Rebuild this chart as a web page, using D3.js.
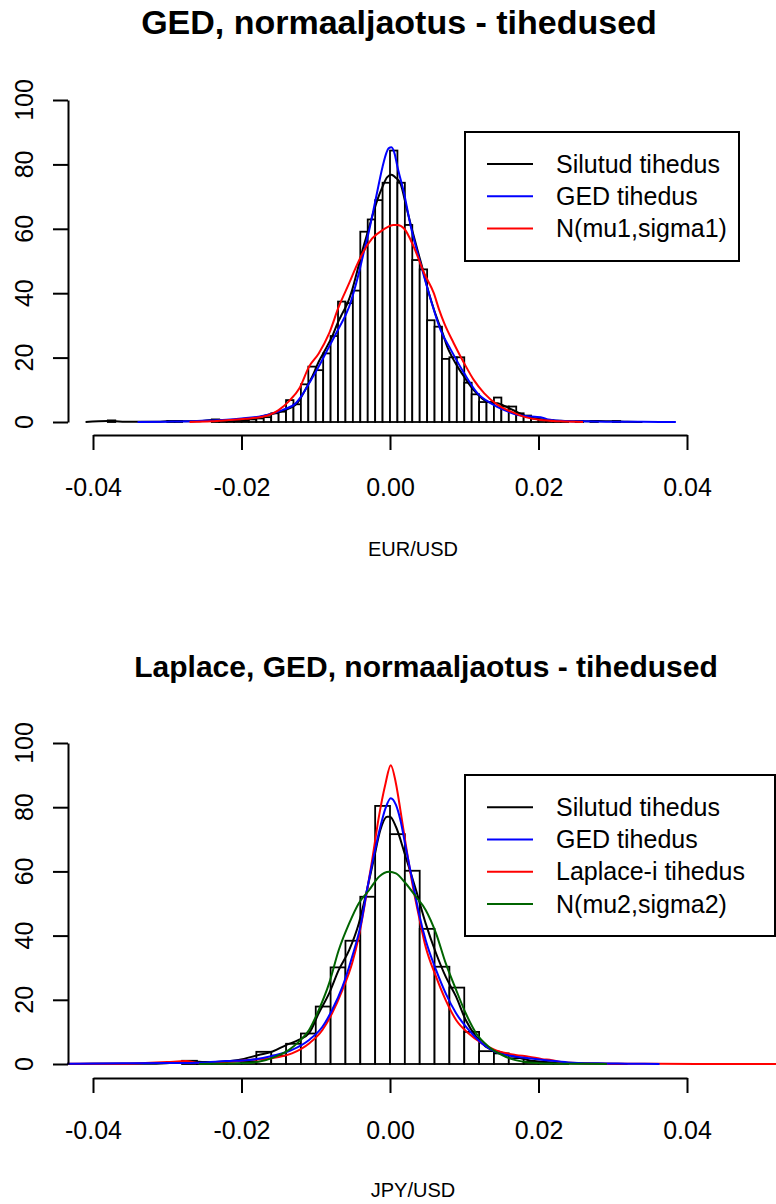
<!DOCTYPE html>
<html>
<head>
<meta charset="utf-8">
<script src="https://cdn.jsdelivr.net/npm/d3@7"></script>
<style>
  html, body { margin: 0; padding: 0; background: #fff; }
  svg { display: block; }
  text { font-family: "Liberation Sans", Arial, sans-serif; fill: #000; }
</style>
</head>
<body>
<svg id="chart" width="776" height="1204"></svg>
<script>
// ---------- EUR/USD panel ----------
const eurBinStart = -0.038;
const eurBinWidth = 0.001;
const eurHist = [
  0.5, 0, 0, 0, 0, 0, 0, 0, 0.3, 0.3, 0, 0, 0, 0, 0.8, 0.4, 0.3, 0.3, 0.5,
  0.8, 1.1, 1.5, 2.7, 3.2, 6.8, 5.5, 11.7, 17.2, 16.1, 21.3, 26.7, 37.4, 36.9, 40.8,
  59.1, 62.9, 68.9, 74.3,
  84.3, 74.3, 61.2, 50.3, 47.4, 31.6, 29.6, 19.6, 20.1, 20.1, 12.2, 8.6, 6.2, 6.2,
  7.6, 4.8, 4.8, 2.7, 2.0, 1.1, 0.8, 0.5, 0.3, 0.3, 0, 0.3, 0, 0.3, 0, 0, 0.3
];
const eurKdeX = [-0.041, -0.038, -0.035, -0.032, -0.029, -0.026, -0.024, -0.022, -0.020, -0.018,
  -0.0165, -0.015, -0.0135, -0.0125, -0.0113, -0.0104, -0.0096, -0.0087, -0.0078, -0.0070,
  -0.0064, -0.0057, -0.0051, -0.0044, -0.0037, -0.0030, -0.0024, -0.0017, -0.0010, -0.0004,
  0.0002, 0.0007, 0.0014, 0.0023, 0.0030, 0.0037, 0.0044, 0.0050, 0.0057, 0.0064,
  0.0071, 0.0077, 0.0084, 0.0091, 0.0100, 0.0109, 0.0118, 0.0127, 0.0136, 0.0145,
  0.0154, 0.0163, 0.0172, 0.0181, 0.0190, 0.0199, 0.0210, 0.0225, 0.024, 0.026,
  0.028, 0.030, 0.032, 0.034];
const eurKdeY = [0, 0.3, 0.05, 0.05, 0.3, 0.2, 0.6, 0.5, 0.8, 1.3,
  2.2, 3.0, 4.3, 5.8, 10.5, 14.5, 18.7, 22.5, 26.5, 31,
  33.8, 37, 41, 47, 53.4, 59, 63.8, 69, 73.1, 76,
  76.8, 76, 74.1, 65.8, 59.5, 53.4, 47.5, 42, 36.5, 31.7,
  27.5, 23.4, 20, 17.2, 14, 11, 8.6, 6.8, 6.0, 5.8,
  5.0, 4.0, 3.0, 2.0, 1.3, 0.9, 0.6, 0.4, 0.3, 0.2,
  0.3, 0.2, 0.05, 0];
const eurGedX = [-0.034, -0.030, -0.026, -0.024, -0.022, -0.020, -0.0172, -0.0145, -0.0127, -0.0118,
  -0.0109, -0.0096, -0.0082, -0.0069, -0.0055, -0.0042, -0.0035, -0.0028, -0.0019, -0.0010,
  -0.0005, -0.0002, 0.0002, 0.0006, 0.0010, 0.0019, 0.0028, 0.0041, 0.0055, 0.0068,
  0.0082, 0.0100, 0.0118, 0.0136, 0.0154, 0.0172, 0.0185, 0.0195, 0.0203, 0.0213,
  0.023, 0.026, 0.030, 0.034, 0.0385];
const eurGedY = [0, 0.1, 0.3, 0.5, 0.7, 1.1, 1.9, 3.7, 5.8, 8.5,
  12, 17.2, 23.4, 29.1, 35.8, 46.2, 53, 59.6, 69.5, 79.3,
  83.5, 85, 85.3, 83.5, 79.3, 71.0, 60.7, 49.3, 37.9, 28.6,
  22.4, 15.1, 8.9, 5.8, 3.7, 2.2, 1.8, 1.6, 1.5, 0.8,
  0.4, 0.2, 0.1, 0.05, 0];
const eurNormX = [-0.027, -0.024, -0.0217, -0.0195, -0.0172, -0.0150, -0.0136, -0.0122, -0.0109, -0.0096,
  -0.0082, -0.0069, -0.0055, -0.0046, -0.0037, -0.0024, -0.0010, 0.0005, 0.0010, 0.0019,
  0.0032, 0.0046, 0.0059, 0.0066, 0.0073, 0.0086, 0.0100, 0.0113, 0.0127, 0.0145,
  0.0163, 0.0181, 0.0203, 0.023, 0.026];
const eurNormY = [0, 0.2, 0.6, 1.0, 1.6, 3.7, 6.5, 10.5, 17.2, 21.3,
  27.5, 35.8, 43.1, 48, 52.4, 57.0, 59.6, 61.2, 61.2, 60.1,
  54.4, 46.2, 40.0, 35, 30.7, 24.4, 18.2, 13.0, 8.9, 5.3,
  3.2, 1.6, 0.6, 0.2, 0];

// ---------- JPY/USD panel ----------
const jpyBinStart = -0.028;
const jpyBinWidth = 0.002;
const jpyHist = [1.0, 0.3, 0.5, 0.8, 0.8, 3.8, 2.6, 6.3, 9.5, 17.9, 30.1, 38.4, 52.1, 80.4,
  71.6, 60.2, 42.1, 30.3, 23.8, 10.0, 4.0, 3.3, 1.8, 0.7, 0.3, 0.2];
const jpyKdeX = [-0.0435, -0.040, -0.036, -0.032, -0.028, -0.0265, -0.025, -0.0235, -0.0204, -0.0177,
  -0.0159, -0.014, -0.0123, -0.0109, -0.0096, -0.0082, -0.0069, -0.0055, -0.0042, -0.0031,
  -0.0022, -0.0013, -0.0004, 0, 0.0008, 0.0021, 0.0035, 0.0048, 0.0062, 0.0075,
  0.0089, 0.0102, 0.0116, 0.0129, 0.0147, 0.0169, 0.0187, 0.021, 0.024, 0.028, 0.032];
const jpyKdeY = [0, 0.05, 0.1, 0.1, 0.6, 0.8, 0.6, 0.6, 1.25, 2.8,
  3.8, 5.9, 7.5, 9.6, 15.8, 22, 29.3, 35.5, 43.8, 54.2,
  63.6, 72.9, 77.0, 77, 73.9, 64.6, 54.2, 43.8, 34.5, 27.2,
  21, 13.7, 8.5, 5.4, 3.8, 2.3, 1.2, 0.6, 0.2, 0.05, 0];
const jpyGedX = [-0.0435, -0.036, -0.030, -0.0257, -0.0221, -0.019, -0.0159, -0.0132, -0.0109, -0.0091,
  -0.0078, -0.0064, -0.0051, -0.0039, -0.0031, -0.0022, -0.0013, -0.0006, 0.0001, 0.0008,
  0.0014, 0.0021, 0.0030, 0.0039, 0.0048, 0.0062, 0.0075, 0.0089, 0.0106, 0.0124,
  0.0142, 0.0169, 0.0187, 0.021, 0.024, 0.028, 0.032, 0.0363];
const jpyGedY = [0.1, 0.2, 0.3, 0.4, 0.9, 1.25, 2.5, 4.4, 7.5, 11.6,
  16.8, 24.1, 33.4, 43.8, 54.2, 64.6, 73.9, 79.7, 82.8, 80.7,
  76, 67.7, 57.3, 46.9, 38.6, 29.3, 22, 15.8, 10.6, 6.4,
  3.8, 2.3, 1.8, 1.2, 0.5, 0.2, 0.1, 0];
const jpyLapX = [-0.0435, -0.036, -0.033, -0.030, -0.0275, -0.0257, -0.0217, -0.019, -0.0159, -0.0132,
  -0.0109, -0.0091, -0.0078, -0.0064, -0.0051, -0.0042, -0.0033, -0.0024, -0.0015, -0.0006,
  0.0001, 0.0008, 0.0014, 0.0021, 0.0030, 0.0039, 0.0048, 0.0062, 0.0075, 0.0089,
  0.0106, 0.0124, 0.0142, 0.0169, 0.0187, 0.0205, 0.0218, 0.023, 0.026, 0.030,
  0.036, 0.045, 0.0525];
const jpyLapY = [0.05, 0.1, 0.3, 0.6, 0.9, 0.3, 0.7, 1.25, 1.8, 3.3,
  6.4, 10.6, 15.8, 23.1, 31.4, 39.7, 51.1, 63.6, 77, 87.4,
  93.1, 87.4, 79.1, 68.7, 56.3, 45.9, 36.5, 27.2, 19.9, 13.7,
  9.5, 6.4, 4.3, 2.8, 2.3, 1.5, 1.2, 0.6, 0.2, 0.1,
  0.05, 0.02, 0];
const jpyNormX = [-0.0257, -0.0230, -0.0204, -0.0177, -0.0154, -0.0136, -0.0123, -0.0109, -0.0096, -0.0082,
  -0.0069, -0.0055, -0.0042, -0.0028, -0.0015, -0.0001, 0.0008, 0.0021, 0.0035, 0.0048,
  0.0062, 0.0075, 0.0089, 0.0102, 0.0116, 0.0133, 0.0151, 0.0169, 0.0187, 0.022,
  0.026, 0.0292];
const jpyNormY = [0, 0.1, 0.2, 0.7, 2.3, 4.4, 6.9, 10.6, 16.8, 25.1,
  35.5, 43.8, 50.1, 54.2, 58.3, 59.9, 59.4, 56.3, 52.1, 48,
  40.7, 31.4, 23.1, 15.8, 9.6, 5.4, 2.8, 1.2, 0.5, 0.15,
  0.05, 0];

const xTicks = [-0.04, -0.02, 0.00, 0.02, 0.04];
const yTicks = [0, 20, 40, 60, 80, 100];

const svg = d3.select("#chart");
const x = d3.scaleLinear().domain([-0.04, 0.04]).range([93, 687]);

function panel(cfg) {
  const y = d3.scaleLinear().domain([0, 100]).range([cfg.y0, cfg.y100]);
  const g = svg.append("g");

  g.append("text")
    .attr("x", cfg.titleX).attr("y", cfg.titleY)
    .attr("text-anchor", "middle")
    .style("font-size", cfg.titleSize + "px").style("font-weight", "bold")
    .text(cfg.title);

  // histogram bars
  g.append("g").selectAll("rect")
    .data(cfg.hist.map((h, i) => ({ x0: cfg.binStart + i * cfg.binWidth, h })))
    .join("rect")
    .attr("x", d => x(d.x0))
    .attr("width", d => x(d.x0 + cfg.binWidth) - x(d.x0))
    .attr("y", d => y(d.h))
    .attr("height", d => y(0) - y(d.h))
    .attr("fill", "#fff").attr("stroke", "#000").attr("stroke-width", 1.8);

  const line = d3.line().x(d => x(d[0])).y(d => y(d[1])).curve(d3.curveMonotoneX);
  cfg.curves.forEach(c => {
    g.append("path")
      .attr("d", line(c.xs.map((v, i) => [v, c.ys[i]])))
      .attr("fill", "none").attr("stroke", c.color).attr("stroke-width", 2);
  });

  // axes
  const xa = g.append("g").attr("transform", `translate(0,${cfg.xAxisY})`)
    .call(d3.axisBottom(x).tickValues(xTicks).tickSize(15).tickSizeOuter(0)
      .tickFormat(d => d.toFixed(2)));
  xa.select(".domain").attr("stroke-width", 2);
  xa.selectAll(".tick line").attr("stroke-width", 2);
  xa.selectAll(".tick text").attr("y", 0).attr("dy", null)
    .attr("transform", `translate(0,${cfg.xLabelBase - cfg.xAxisY})`)
    .style("font-size", "25px").style("font-family", "Liberation Sans, Arial, sans-serif");

  const ya = g.append("g").attr("transform", "translate(68,0)")
    .call(d3.axisLeft(y).tickValues(yTicks).tickSize(15).tickSizeOuter(0).tickFormat(""));
  ya.select(".domain").attr("stroke-width", 2);
  ya.selectAll(".tick line").attr("stroke-width", 2);
  g.append("g").selectAll("text").data(yTicks).join("text")
    .attr("transform", d => `translate(33,${y(d)}) rotate(-90)`)
    .attr("text-anchor", "middle")
    .style("font-size", "25px")
    .text(d => d);

  g.append("text")
    .attr("x", cfg.xTitleX).attr("y", cfg.xTitleY)
    .attr("text-anchor", "middle").style("font-size", "20px")
    .text(cfg.xTitle);

  // legend
  const L = cfg.legend;
  g.append("rect").attr("x", L.x).attr("y", L.y).attr("width", L.w).attr("height", L.h)
    .attr("fill", "#fff").attr("stroke", "#000").attr("stroke-width", 2);
  L.items.forEach((it, i) => {
    const yy = L.firstY + i * L.step;
    g.append("line").attr("x1", L.x + 22).attr("x2", L.x + 68).attr("y1", yy).attr("y2", yy)
      .attr("stroke", it.color).attr("stroke-width", 2);
    g.append("text").attr("x", L.x + 91).attr("y", yy).attr("dy", "0.35em")
      .style("font-size", "25px").text(it.label);
  });
}

panel({
  title: "GED, normaaljaotus - tihedused", titleX: 399, titleY: 34, titleSize: 34,
  y0: 422, y100: 100, xAxisY: 435, xLabelBase: 496,
  xTitle: "EUR/USD", xTitleX: 413, xTitleY: 556,
  hist: eurHist, binStart: eurBinStart, binWidth: eurBinWidth,
  curves: [
    { xs: eurKdeX, ys: eurKdeY, color: "#000" },
    { xs: eurGedX, ys: eurGedY, color: "#0000ff" },
    { xs: eurNormX, ys: eurNormY, color: "#ff0000" }
  ],
  legend: { x: 465, y: 132, w: 274, h: 129, firstY: 164, step: 32.3,
    items: [
      { label: "Silutud tihedus", color: "#000" },
      { label: "GED tihedus", color: "#0000ff" },
      { label: "N(mu1,sigma1)", color: "#ff0000" }
    ] }
});

panel({
  title: "Laplace, GED, normaaljaotus - tihedused", titleX: 426, titleY: 677, titleSize: 30,
  y0: 1064, y100: 743, xAxisY: 1078, xLabelBase: 1139,
  xTitle: "JPY/USD", xTitleX: 413, xTitleY: 1197,
  hist: jpyHist, binStart: jpyBinStart, binWidth: jpyBinWidth,
  curves: [
    { xs: jpyKdeX, ys: jpyKdeY, color: "#000" },
    { xs: jpyLapX, ys: jpyLapY, color: "#ff0000" },
    { xs: jpyGedX, ys: jpyGedY, color: "#0000ff" },
    { xs: jpyNormX, ys: jpyNormY, color: "#006400" }
  ],
  legend: { x: 465, y: 775, w: 310, h: 161, firstY: 807.3, step: 32.2,
    items: [
      { label: "Silutud tihedus", color: "#000" },
      { label: "GED tihedus", color: "#0000ff" },
      { label: "Laplace-i tihedus", color: "#ff0000" },
      { label: "N(mu2,sigma2)", color: "#006400" }
    ] }
});
</script>
</body>
</html>
